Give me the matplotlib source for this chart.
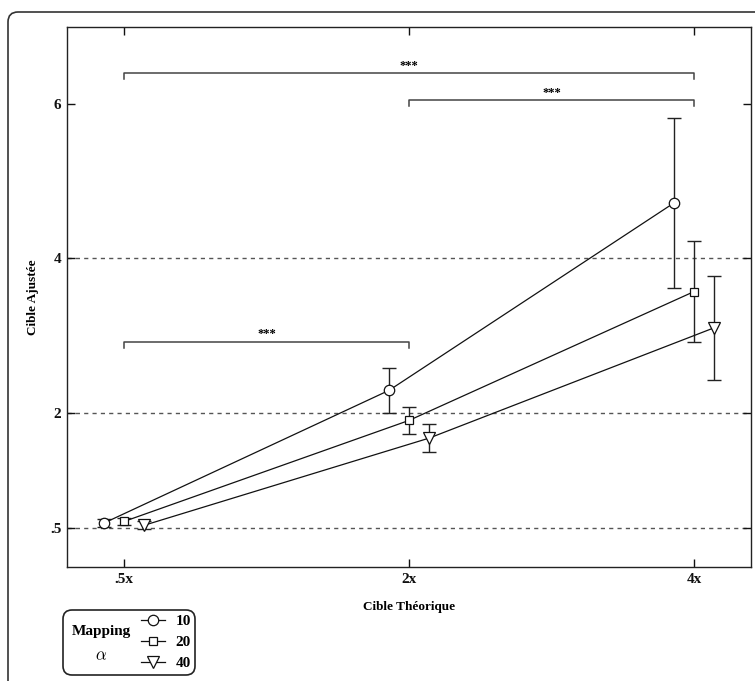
import matplotlib
matplotlib.use("Agg")
import matplotlib.pyplot as plt
from matplotlib.patches import FancyBboxPatch
from matplotlib.transforms import IdentityTransform

plt.rcParams["font.family"] = ["Liberation Serif", "DejaVu Serif"]
plt.rcParams["font.weight"] = "bold"
plt.rcParams["mathtext.fontset"] = "cm"

# data
x_labels = [".5x", "2x", "4x"]
y_ticks = [0.5, 2, 4, 6]
y_tick_labels = [".5", "2", "4", "6"]
ref_lines = [0.5, 2, 4]
series_names = ["10", "20", "40"]
series_markers = ["o", "s", "v"]
series_offsets = [-0.07, 0.0, 0.07]
mean_10 = [0.57, 2.29, 4.72]
mean_20 = [0.59, 1.90, 3.57]
mean_40 = [0.54, 1.67, 3.10]
err_10 = [0.05, 0.29, 1.10]
err_20 = [0.05, 0.17, 0.65]
err_40 = [0.05, 0.18, 0.67]
# significance brackets: (x from, x to, height, text)
brackets = [(1, 3, 6.40, "***"), (2, 3, 6.05, "***"), (1, 2, 2.92, "***")]

means = [mean_10, mean_20, mean_40]
errs = [err_10, err_20, err_40]
msizes = [7.5, 6, 8]

fig = plt.figure(figsize=(7.55, 6.81), dpi=100)
ax = fig.add_axes([67 / 755, 1 - 567 / 681, (751 - 67) / 755, (567 - 27) / 681])

for yv in ref_lines:
    ax.axhline(yv, color="#555555", lw=1, ls=(0, (3, 3)), zorder=1)

xs = [1, 2, 3]
handles = []
for name, mk, off, m, e, ms in zip(series_names, series_markers, series_offsets,
                                     means, errs, msizes):
    px = [x + off for x in xs]
    ax.errorbar(px, m, yerr=e, fmt="none", ecolor="#222222", elinewidth=1,
                capsize=5, capthick=1, zorder=2)
    h, = ax.plot(px, m, color="#111111", lw=0.9, marker=mk, ms=ms,
                 mfc="white", mec="#111111", mew=0.9, zorder=3)
    handles.append(h)

for x1, x2, yb, txt in brackets:
    ax.plot([x1, x1, x2, x2], [yb - 0.08, yb, yb, yb - 0.08],
            color="#444444", lw=1.1, zorder=2)
    ax.text((x1 + x2) / 2, yb + 0.02, txt, ha="center", va="bottom",
            fontsize=9, fontweight="bold")

ax.set_xlim(0.8, 3.2)
ax.set_ylim(0, 7)
ax.set_xticks(xs)
ax.set_xticklabels(x_labels)
ax.set_yticks(y_ticks)
ax.set_yticklabels(y_tick_labels)
ax.tick_params(direction="in", top=True, right=True, length=6, width=1,
               labelsize=11, pad=4, colors="#111111")
for sp in ax.spines.values():
    sp.set_color("#222222")
    sp.set_linewidth(1)

ax.set_xlabel("Cible Théorique", fontsize=9.5, fontweight="bold", labelpad=11)
ax.set_ylabel("Cible Ajustée", fontsize=9.5, fontweight="bold", labelpad=8)

# outer rounded frame (clipped at right and bottom)
frame = FancyBboxPatch((8, -30), 780, 681 - 12 + 30,
                       boxstyle="round,pad=0,rounding_size=10",
                       transform=IdentityTransform(), fill=False,
                       ec="#333333", lw=1.2)
fig.add_artist(frame)

# legend box
lbox = FancyBboxPatch((63, 681 - 675), 132, 65,
                      boxstyle="round,pad=0,rounding_size=9",
                      transform=IdentityTransform(), fill=False,
                      ec="#222222", lw=1.2)
fig.add_artist(lbox)
fig.text(101 / 755, 1 - 632 / 681, "Mapping", ha="center", va="center",
         fontsize=11, fontweight="bold")
fig.text(101 / 755, 1 - 656 / 681, r"$\alpha$", ha="center", va="center",
         fontsize=12)
fig.legend(handles, series_names, loc="upper left",
           bbox_to_anchor=(139 / 755, 1 - 613 / 681), frameon=False,
           handlelength=1.6, handletextpad=0.7, labelspacing=0.48,
           borderaxespad=0, borderpad=0.1,
           prop={"family": "Liberation Serif", "weight": "bold", "size": 11})

fig.savefig("out.png", dpi=100)
